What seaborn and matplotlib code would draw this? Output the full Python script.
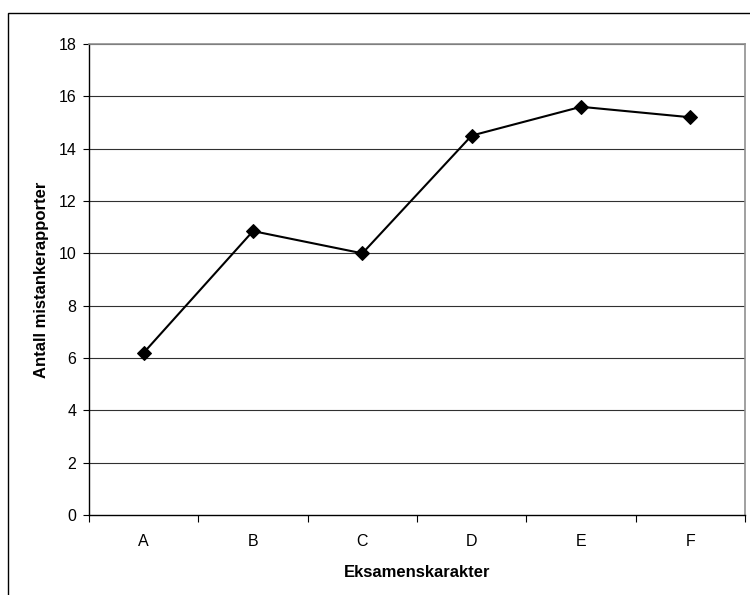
import matplotlib
matplotlib.use("Agg")
import matplotlib.pyplot as plt
from matplotlib.patches import Rectangle
from matplotlib.ticker import FixedLocator
import seaborn as sns
import pandas as pd

categories = ["A", "B", "C", "D", "E", "F"]
values = [6.2, 10.85, 10.0, 14.5, 15.6, 15.2]
y_ticks = [0, 2, 4, 6, 8, 10, 12, 14, 16, 18]

sns.set_style("white")
plt.rcParams["font.family"] = ["Liberation Sans", "DejaVu Sans"]
plt.rcParams["text.color"] = "black"
plt.rcParams["axes.labelcolor"] = "black"
plt.rcParams["xtick.color"] = "black"
plt.rcParams["ytick.color"] = "black"

df = pd.DataFrame({"Eksamenskarakter": categories, "Antall": values})

fig = plt.figure(figsize=(7.5, 5.95), dpi=100)
ax = fig.add_axes([89/750, 1 - 515/595, (745-89)/750, (515-44)/595])

sns.lineplot(data=df, x="Eksamenskarakter", y="Antall", ax=ax, color="black",
             marker="D", markersize=7, markeredgecolor="black", linewidth=1.5,
             sort=False)

ax.set_xlim(-0.5, len(categories) - 0.5)
ax.set_ylim(0, 18)
ax.set_yticks(y_ticks)
ax.set_yticklabels([str(t) for t in y_ticks], fontsize=11.5)
for t in y_ticks[1:]:
    ax.axhline(t, color="#303030", linewidth=0.8, zorder=0)

ax.set_xticks(range(len(categories)))
ax.set_xticklabels(categories, fontsize=11.5)
ax.tick_params(axis="x", which="major", length=0, pad=14)
ax.xaxis.set_minor_locator(FixedLocator([i + 0.5 for i in range(-1, len(categories))]))
ax.tick_params(axis="x", which="minor", length=5, direction="out", color="black", width=0.8, bottom=True)
ax.tick_params(axis="y", which="major", length=4, direction="out", color="black", width=0.8, left=True, pad=5)

for s in ["left", "bottom"]:
    ax.spines[s].set_color("black")
    ax.spines[s].set_linewidth(1.0)
for s in ["top", "right"]:
    ax.spines[s].set_visible(True)
    ax.spines[s].set_color("#909090")
    ax.spines[s].set_linewidth(1.2)

ax.set_xlabel("Eksamenskarakter", fontsize=12, fontweight="bold", labelpad=11, color="black")
ax.set_ylabel("Antall mistankerapporter", fontsize=12, fontweight="bold", labelpad=7, color="black")

top = 1 - 13/595
fig.patches.append(Rectangle((8/750, -0.1), 1.2, top + 0.1,
                             transform=fig.transFigure, fill=False,
                             edgecolor="black", linewidth=1.0))

fig.savefig("out.png", dpi=100)
